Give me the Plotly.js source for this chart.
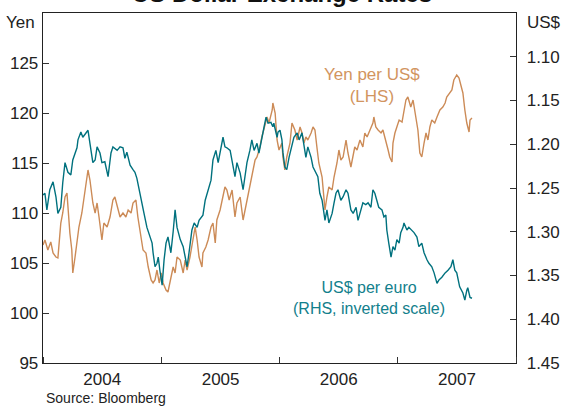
<!DOCTYPE html>
<html><head><meta charset="utf-8">
<script src="https://cdn.plot.ly/plotly-3.0.1.min.js"></script>
<style>html,body{margin:0;padding:0;background:#fff}#chart{width:561px;height:406px}</style>
</head><body><div id="chart"></div>
<script>
// Yen per US$ (LHS) — time in fractional years
const yenTime = [2004.000,2004.017,2004.042,2004.068,2004.085,2004.110,2004.127,2004.152,2004.169,2004.186,2004.203,2004.211,2004.228,2004.245,2004.254,2004.271,2004.288,2004.304,2004.330,2004.347,2004.372,2004.381,2004.397,2004.414,2004.423,2004.440,2004.457,2004.474,2004.499,2004.516,2004.541,2004.567,2004.592,2004.609,2004.626,2004.651,2004.677,2004.702,2004.719,2004.744,2004.761,2004.786,2004.803,2004.829,2004.846,2004.871,2004.888,2004.913,2004.930,2004.947,2004.964,2004.981,2004.998,2005.015,2005.040,2005.057,2005.082,2005.099,2005.116,2005.133,2005.159,2005.184,2005.201,2005.218,2005.243,2005.269,2005.285,2005.302,2005.319,2005.345,2005.353,2005.378,2005.395,2005.421,2005.438,2005.455,2005.471,2005.497,2005.522,2005.539,2005.556,2005.573,2005.598,2005.624,2005.641,2005.666,2005.691,2005.708,2005.725,2005.750,2005.776,2005.793,2005.810,2005.835,2005.852,2005.877,2005.894,2005.911,2005.937,2005.945,2005.962,2005.979,2005.996,2006.021,2006.030,2006.046,2006.063,2006.089,2006.106,2006.131,2006.148,2006.173,2006.190,2006.207,2006.224,2006.241,2006.266,2006.283,2006.300,2006.317,2006.334,2006.359,2006.368,2006.385,2006.402,2006.419,2006.444,2006.461,2006.486,2006.503,2006.520,2006.537,2006.562,2006.579,2006.605,2006.622,2006.638,2006.655,2006.681,2006.706,2006.723,2006.740,2006.765,2006.791,2006.799,2006.816,2006.833,2006.858,2006.875,2006.901,2006.918,2006.934,2006.951,2006.960,2006.977,2006.994,2007.011,2007.036,2007.053,2007.070,2007.087,2007.112,2007.129,2007.154,2007.171,2007.188,2007.205,2007.222,2007.239,2007.256,2007.273,2007.290,2007.315,2007.332,2007.357,2007.383,2007.400,2007.416,2007.442,2007.459,2007.476,2007.501,2007.518,2007.535,2007.552,2007.569,2007.586,2007.603,2007.611,2007.628];
const yenValue = [106.8,107.3,106.3,107.1,106.0,105.6,105.5,109.0,110.0,111.6,112.0,110.3,108.0,106.3,104.0,105.6,107.3,108.6,110.0,111.6,113.6,114.3,113.3,112.0,111.0,110.0,111.0,109.6,107.3,109.0,108.6,109.6,111.3,111.6,110.6,109.6,110.0,109.6,110.3,110.0,111.0,111.3,109.6,107.3,106.3,106.0,104.6,103.3,103.0,103.3,104.3,103.0,104.0,103.0,102.3,102.1,103.6,104.6,104.0,105.6,105.3,104.0,105.3,104.3,105.6,107.3,108.6,107.3,105.6,104.6,106.0,106.6,107.3,108.6,109.0,107.0,109.3,110.3,111.6,112.6,112.3,111.3,112.3,109.6,111.0,111.6,109.3,110.3,111.3,112.6,114.3,115.3,115.6,116.6,117.6,119.0,119.6,119.0,120.3,121.0,120.0,117.3,116.3,117.0,115.6,114.3,115.6,117.0,119.0,118.3,117.3,118.6,118.0,117.0,117.6,117.3,118.0,118.6,118.3,116.6,115.0,113.6,112.3,110.3,111.6,112.6,112.3,113.6,115.0,116.3,115.3,115.6,117.3,116.0,114.6,116.0,116.6,116.3,117.3,116.6,118.0,117.6,118.3,119.0,119.6,118.6,118.3,118.0,118.3,117.3,116.3,115.6,115.1,117.0,118.0,118.6,119.3,119.1,120.3,121.3,121.6,120.6,121.3,119.6,118.3,116.0,115.6,117.0,118.0,117.3,118.6,119.3,119.0,119.6,120.3,120.6,121.0,121.6,122.0,122.3,123.3,123.8,123.5,122.8,122.0,120.3,119.0,118.1,119.3,119.5];

// US$ per euro (RHS, inverted scale)
const euroTime = [2004.000,2004.017,2004.034,2004.059,2004.085,2004.110,2004.127,2004.152,2004.169,2004.186,2004.211,2004.237,2004.254,2004.288,2004.296,2004.321,2004.338,2004.364,2004.381,2004.397,2004.423,2004.440,2004.457,2004.482,2004.499,2004.524,2004.550,2004.575,2004.592,2004.626,2004.651,2004.677,2004.693,2004.710,2004.736,2004.761,2004.778,2004.795,2004.812,2004.837,2004.854,2004.879,2004.896,2004.922,2004.930,2004.947,2004.964,2004.973,2004.989,2005.006,2005.023,2005.040,2005.057,2005.082,2005.099,2005.116,2005.133,2005.159,2005.184,2005.201,2005.218,2005.235,2005.260,2005.277,2005.302,2005.319,2005.353,2005.370,2005.395,2005.421,2005.438,2005.463,2005.480,2005.505,2005.522,2005.539,2005.556,2005.581,2005.607,2005.624,2005.641,2005.666,2005.691,2005.708,2005.725,2005.750,2005.767,2005.784,2005.810,2005.827,2005.852,2005.869,2005.886,2005.903,2005.928,2005.945,2005.953,2005.979,2005.987,2006.004,2006.021,2006.030,2006.046,2006.063,2006.080,2006.106,2006.123,2006.148,2006.165,2006.190,2006.207,2006.224,2006.241,2006.266,2006.283,2006.309,2006.326,2006.342,2006.359,2006.385,2006.402,2006.419,2006.444,2006.461,2006.478,2006.495,2006.520,2006.537,2006.562,2006.579,2006.605,2006.622,2006.647,2006.664,2006.689,2006.706,2006.731,2006.748,2006.774,2006.791,2006.808,2006.824,2006.841,2006.867,2006.884,2006.901,2006.909,2006.926,2006.943,2006.960,2006.977,2006.994,2007.011,2007.027,2007.044,2007.053,2007.078,2007.095,2007.120,2007.137,2007.163,2007.180,2007.205,2007.222,2007.247,2007.264,2007.290,2007.307,2007.332,2007.349,2007.374,2007.400,2007.425,2007.450,2007.467,2007.484,2007.501,2007.526,2007.552,2007.569,2007.586,2007.594,2007.611,2007.628];
const euroValue = [1.258,1.256,1.275,1.252,1.243,1.260,1.279,1.272,1.244,1.221,1.232,1.235,1.218,1.204,1.195,1.186,1.192,1.187,1.184,1.199,1.221,1.218,1.203,1.210,1.221,1.220,1.237,1.210,1.203,1.207,1.203,1.204,1.216,1.209,1.224,1.229,1.232,1.239,1.252,1.272,1.279,1.295,1.301,1.313,1.324,1.340,1.336,1.329,1.344,1.361,1.332,1.313,1.306,1.324,1.300,1.275,1.295,1.309,1.317,1.330,1.340,1.324,1.298,1.290,1.295,1.287,1.281,1.264,1.252,1.241,1.218,1.207,1.221,1.203,1.192,1.203,1.204,1.207,1.226,1.237,1.221,1.233,1.252,1.233,1.221,1.207,1.195,1.207,1.199,1.210,1.195,1.180,1.169,1.176,1.175,1.180,1.176,1.192,1.186,1.184,1.195,1.209,1.226,1.229,1.215,1.199,1.192,1.187,1.195,1.187,1.199,1.215,1.203,1.215,1.226,1.233,1.237,1.256,1.264,1.287,1.275,1.290,1.279,1.267,1.256,1.252,1.264,1.260,1.252,1.256,1.275,1.279,1.272,1.287,1.275,1.267,1.269,1.267,1.272,1.252,1.256,1.264,1.272,1.275,1.283,1.281,1.298,1.313,1.329,1.317,1.321,1.309,1.313,1.301,1.295,1.290,1.298,1.295,1.298,1.301,1.306,1.317,1.313,1.324,1.332,1.336,1.340,1.347,1.359,1.355,1.352,1.347,1.344,1.340,1.332,1.344,1.347,1.363,1.370,1.378,1.367,1.364,1.375,1.376];

const yenTicks = [95,100,105,110,115,120,125];
const euroTicks = [1.10,1.15,1.20,1.25,1.30,1.35,1.40,1.45];

function toDate(fy){
  const y = Math.floor(fy), f = fy - y;
  const a = Date.UTC(y,0,1), b = Date.UTC(y+1,0,1);
  return new Date(a + f*(b-a)).toISOString().slice(0,10);
}

const ORANGE = '#CC8B57', TEAL = '#00717E';
const FONT = '"Liberation Sans", Arial, sans-serif';

const traces = [
  {x: yenTime.map(toDate), y: yenValue, type:'scatter', mode:'lines', yaxis:'y',
   line:{color:ORANGE, width:1.4}, hoverinfo:'skip'},
  {x: euroTime.map(toDate), y: euroValue, type:'scatter', mode:'lines', yaxis:'y2',
   line:{color:TEAL, width:1.4}, hoverinfo:'skip'}
];

const layout = {
  width:561, height:406,
  margin:{l:43, r:45, t:13, b:43, pad:0},
  paper_bgcolor:'#fff', plot_bgcolor:'#fff',
  showlegend:false,
  font:{family:FONT, size:17, color:'#222'},
  xaxis:{type:'date', range:['2004-01-01','2008-01-01'], dtick:'M12', tick0:'2004-01-01',
    tickformat:'%Y', ticklabelmode:'period', ticks:'inside', ticklen:6, tickcolor:'#333',
    showgrid:false, zeroline:false, showline:true, mirror:true, linecolor:'#222', linewidth:1.3,
    tickfont:{size:17, color:'#222'}},
  yaxis:{range:[95,130], tickvals:yenTicks, ticks:'inside', ticklen:6, tickcolor:'#333',
    showgrid:false, zeroline:false, showline:true, linecolor:'#222', linewidth:1.3,
    tickfont:{size:17, color:'#222'}},
  yaxis2:{range:[1.45,1.05], overlaying:'y', side:'right', tickvals:euroTicks, tickformat:'.2f',
    ticks:'inside', ticklen:6, tickcolor:'#333', ticklabelstandoff:6,
    showgrid:false, zeroline:false, showline:true, linecolor:'#222', linewidth:1.3,
    tickfont:{size:17, color:'#222'}},
  annotations:[
    {text:'<b>US Dollar Exchange Rates</b>', xref:'paper', yref:'paper', x:0.505, y:1.055,
     xanchor:'center', yanchor:'middle', showarrow:false, font:{size:24, color:'#111', family:FONT}},
    {text:'Yen', xref:'paper', yref:'paper', x:-0.012, y:0.974, xanchor:'right', yanchor:'middle',
     showarrow:false, font:{size:17, color:'#222', family:FONT}},
    {text:'US$', xref:'paper', yref:'paper', x:1.019, y:0.974, xanchor:'left', yanchor:'middle',
     showarrow:false, font:{size:17, color:'#222', family:FONT}},
    {text:'Yen per US$<br>(LHS)', xref:'paper', yref:'paper', x:0.6956, y:0.793,
     xanchor:'center', yanchor:'middle', showarrow:false, font:{size:17, color:'#D2955F', family:FONT}},
    {text:'US$ per euro<br>(RHS, inverted scale)', xref:'paper', yref:'paper', x:0.689, y:0.185,
     xanchor:'center', yanchor:'middle', showarrow:false, font:{size:16, color:'#12808C', family:FONT}},
    {text:'Source: Bloomberg', xref:'paper', yref:'paper', x:0.002, y:-0.1,
     xanchor:'left', yanchor:'middle', showarrow:false, font:{size:14, color:'#222', family:FONT}}
  ]
};

Plotly.newPlot('chart', traces, layout, {staticPlot:true, displayModeBar:false});
</script>
</body></html>
